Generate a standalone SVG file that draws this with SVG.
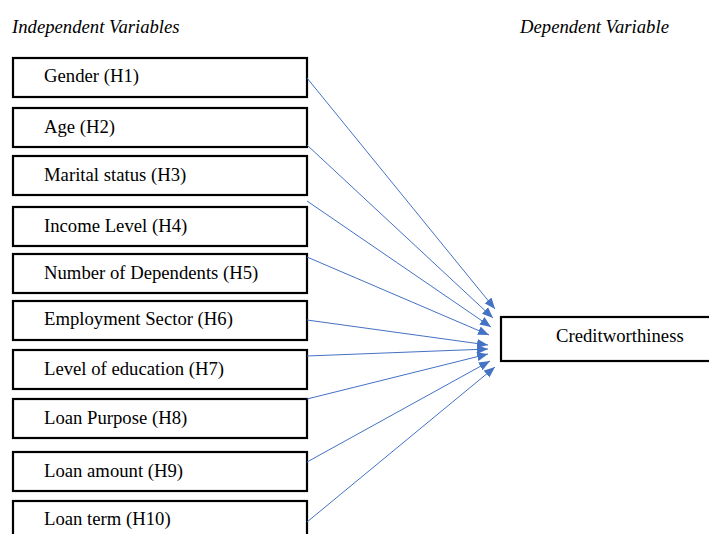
<svg xmlns="http://www.w3.org/2000/svg" width="709" height="534" viewBox="0 0 709 534">
<style>
.box{fill:#fff;stroke:#000;stroke-width:2.2}
.t{font-family:"Liberation Serif","Times New Roman",serif;font-size:18.7px;fill:#000}
.h{font-family:"Liberation Serif","Times New Roman",serif;font-size:18.7px;font-style:italic;fill:#000}
.c{stroke:#4472C4;stroke-width:1;fill:none;marker-end:url(#ah)}
</style>
<defs>
<marker id="ah" markerUnits="userSpaceOnUse" markerWidth="12" markerHeight="10" refX="11" refY="5" orient="auto">
<path d="M0,0.5 L11,5 L0,9.5 Z" fill="#4472C4"/>
</marker>
</defs>
<rect width="709" height="534" fill="#fff"/>
<text class="h" x="12" y="33">Independent Variables</text>
<text class="h" x="520" y="33">Dependent Variable</text>
<g id="n1"><rect class="box" x="13" y="58" width="294" height="39"/><text class="t" x="44" y="82">Gender (H1)</text></g>
<g id="n2"><rect class="box" x="13" y="108" width="294" height="39"/><text class="t" x="44" y="133">Age (H2)</text></g>
<g id="n3"><rect class="box" x="13" y="156" width="294" height="39"/><text class="t" x="44" y="181">Marital status (H3)</text></g>
<g id="n4"><rect class="box" x="13" y="207" width="294" height="39"/><text class="t" x="44" y="232">Income Level (H4)</text></g>
<g id="n5"><rect class="box" x="13" y="254" width="294" height="39"/><text class="t" x="44" y="279">Number of Dependents (H5)</text></g>
<g id="n6"><rect class="box" x="13" y="301" width="294" height="39"/><text class="t" x="44" y="325">Employment Sector (H6)</text></g>
<g id="n7"><rect class="box" x="13" y="350" width="294" height="39"/><text class="t" x="44" y="375">Level of education (H7)</text></g>
<g id="n8"><rect class="box" x="13" y="399" width="294" height="39"/><text class="t" x="44" y="424">Loan Purpose (H8)</text></g>
<g id="n9"><rect class="box" x="13" y="452" width="294" height="39"/><text class="t" x="44" y="477">Loan amount (H9)</text></g>
<g id="n10"><rect class="box" x="13" y="501" width="294" height="45"/><text class="t" x="44" y="525">Loan term (H10)</text></g>
<g id="target"><rect class="box" x="501" y="317" width="215" height="44"/><text class="t" x="556" y="342">Creditworthiness</text></g>
<g id="connectors">
<line class="c" x1="307" y1="78" x2="495" y2="309"/>
<line class="c" x1="307" y1="145" x2="493" y2="318"/>
<line class="c" x1="307" y1="201" x2="491" y2="327"/>
<line class="c" x1="307" y1="257" x2="489" y2="335"/>
<line class="c" x1="307" y1="320" x2="488" y2="345"/>
<line class="c" x1="307" y1="356" x2="488" y2="349"/>
<line class="c" x1="307" y1="399" x2="488" y2="354"/>
<line class="c" x1="307" y1="462" x2="490" y2="361"/>
<line class="c" x1="307" y1="522" x2="495" y2="367"/>
</g>
</svg>
